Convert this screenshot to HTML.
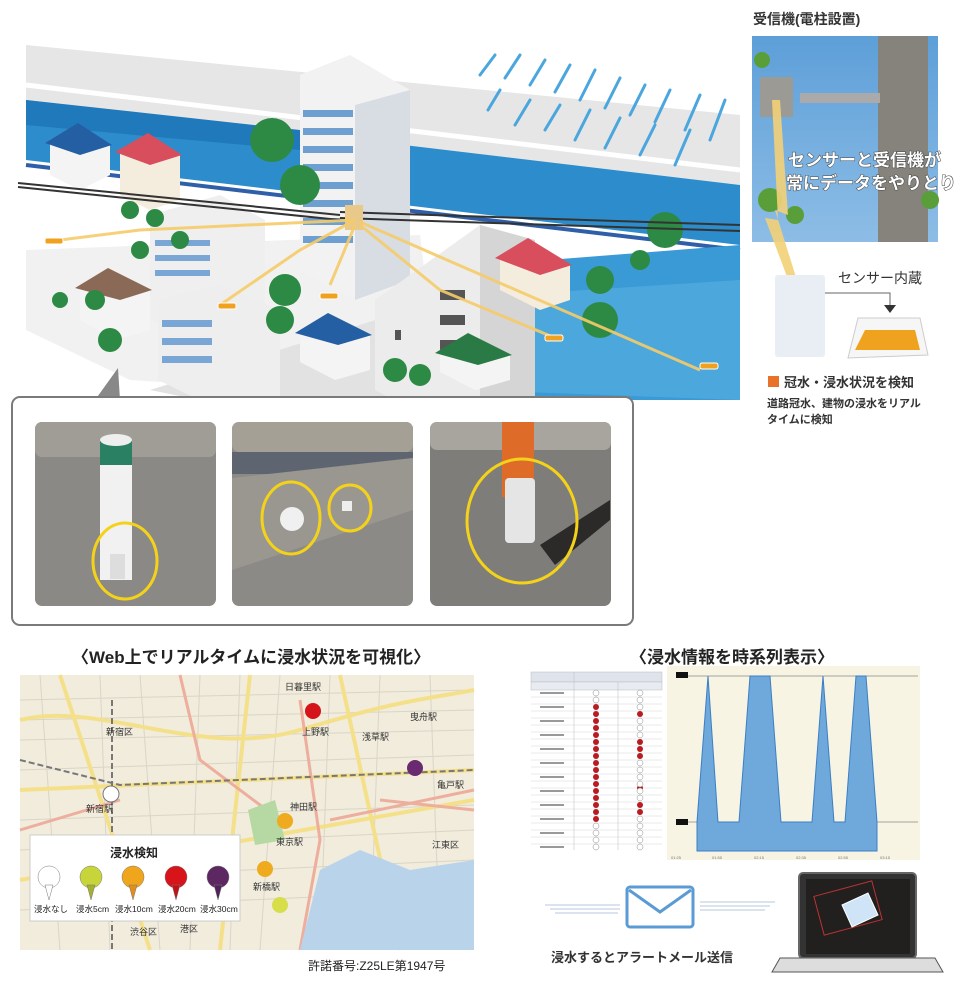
<!DOCTYPE html>
<html><head><meta charset="utf-8"><style>
html,body{margin:0;padding:0;background:#fff;}
body{width:980px;height:985px;overflow:hidden;position:relative;font-family:"Liberation Sans","Noto Sans CJK JP",sans-serif;}
svg text{font-family:"Liberation Sans","Noto Sans CJK JP",sans-serif;}
</style></head><body>
<svg width="980" height="985" viewBox="0 0 980 985" xmlns="http://www.w3.org/2000/svg">
<defs>
<linearGradient id="sky" x1="0" y1="0" x2="0" y2="1"><stop offset="0" stop-color="#5d9fd8"/><stop offset="1" stop-color="#8dbde6"/></linearGradient>
</defs>
<!-- ===== top illustration ===== -->
<polygon points="26,45 740,115 740,185 26,100" fill="#e6e6e6"/>
<polygon points="26,100 740,185 740,245 26,160" fill="#2c8ccc"/>
<polygon points="26,100 300,130 300,150 26,125" fill="#1f79bb"/>
<polyline points="26,85 740,170" stroke="#fff" stroke-width="5" fill="none"/>
<polyline points="26,165 740,250" stroke="#2e5fa8" stroke-width="4" fill="none"/>
<polyline points="26,172 740,258" stroke="#fff" stroke-width="3" fill="none"/>
<polygon points="420,270 740,245 740,400 440,400 420,330" fill="#3a9ad6"/>
<polygon points="430,300 740,280 740,400 470,390" fill="#58b0e0" opacity=".6"/>
<g stroke="#4aa6dd" stroke-width="3" stroke-linecap="round">
<line x1="495" y1="55" x2="480" y2="75"/><line x1="520" y1="55" x2="505" y2="78"/><line x1="545" y1="60" x2="530" y2="85"/><line x1="570" y1="65" x2="555" y2="92"/><line x1="595" y1="70" x2="580" y2="100"/><line x1="620" y1="78" x2="605" y2="108"/><line x1="645" y1="85" x2="630" y2="115"/><line x1="670" y1="90" x2="655" y2="122"/><line x1="700" y1="95" x2="685" y2="130"/><line x1="725" y1="100" x2="710" y2="140"/>
<line x1="500" y1="90" x2="488" y2="110"/><line x1="530" y1="100" x2="515" y2="125"/><line x1="560" y1="105" x2="545" y2="130"/><line x1="590" y1="110" x2="575" y2="140"/><line x1="620" y1="118" x2="605" y2="148"/><line x1="655" y1="125" x2="640" y2="155"/><line x1="690" y1="130" x2="675" y2="165"/>
</g>
<polygon points="26,250 420,235 440,400 130,380 26,330" fill="#f1f1f1"/>
<polygon points="150,390 440,300 460,400 200,400" fill="#e2e2e2"/>
<polygon points="300,75 350,55 410,90 410,280 355,300 300,270" fill="#f2f2f2"/>
<polygon points="355,105 410,90 410,280 355,300" fill="#d8dde3"/>
<g fill="#6d9fd0">
<rect x="303" y="110" width="50" height="7"/><rect x="303" y="128" width="50" height="7"/><rect x="303" y="146" width="50" height="7"/><rect x="303" y="164" width="50" height="7"/><rect x="303" y="182" width="50" height="7"/><rect x="303" y="200" width="50" height="7"/><rect x="303" y="218" width="50" height="7"/><rect x="303" y="236" width="50" height="7"/>
</g>
<polygon points="375,300 480,225 535,240 535,420 430,420 375,390" fill="#ececec"/>
<polygon points="480,225 535,240 535,400 480,410" fill="#d5d5d5"/>
<g fill="#555"><rect x="395" y="330" width="6" height="10"/><rect x="395" y="360" width="6" height="10"/><rect x="440" y="290" width="25" height="10"/><rect x="440" y="315" width="25" height="10"/><rect x="440" y="340" width="25" height="10"/></g>
<polygon points="150,215 220,195 265,220 265,330 215,350 150,320" fill="#efefef"/>
<g fill="#7aa6d6"><rect x="155" y="240" width="55" height="6"/><rect x="155" y="255" width="55" height="6"/><rect x="155" y="270" width="55" height="6"/></g>
<polygon points="158,300 220,285 280,310 280,400 220,410 158,380" fill="#eeeeee"/>
<g fill="#7aa6d6"><rect x="162" y="320" width="50" height="7"/><rect x="162" y="338" width="50" height="7"/><rect x="162" y="356" width="50" height="7"/></g>
<g>
<polygon points="50,140 80,125 110,145 110,175 80,190 50,175" fill="#f4f4f4"/><polygon points="45,143 78,123 112,145 80,155" fill="#255fa3"/>
<polygon points="120,150 150,135 180,155 180,200 150,210 120,195" fill="#f4ecdc"/><polygon points="115,152 148,133 182,155 150,165" fill="#d94e5c"/>
<polygon points="80,285 110,270 150,290 150,330 115,340 80,320" fill="#f4f4f4"/><polygon points="75,288 108,268 152,290 120,300" fill="#8a6a56"/>
<polygon points="300,330 330,315 370,335 370,370 335,380 300,362" fill="#f4f4f4"/><polygon points="295,333 328,313 372,335 338,345" fill="#255fa3"/>
<polygon points="500,255 530,240 570,265 570,300 540,310 500,290" fill="#f4ecdc"/><polygon points="495,258 528,238 572,265 540,275" fill="#d94e5c"/>
<polygon points="440,350 470,335 510,355 510,380 475,390 440,372" fill="#f4f4f4"/><polygon points="435,353 468,333 512,355 478,365" fill="#2a7a45"/>
</g>
<g fill="#2d8a45">
<circle cx="272" cy="140" r="22"/><circle cx="300" cy="185" r="20"/><circle cx="110" cy="340" r="12"/><circle cx="95" cy="300" r="10"/>
<circle cx="130" cy="210" r="9"/><circle cx="155" cy="218" r="9"/><circle cx="140" cy="250" r="9"/><circle cx="180" cy="240" r="9"/><circle cx="285" cy="290" r="16"/><circle cx="280" cy="320" r="14"/>
<circle cx="600" cy="320" r="18"/><circle cx="600" cy="280" r="14"/><circle cx="665" cy="230" r="18"/><circle cx="640" cy="260" r="10"/>
<circle cx="395" cy="370" r="12"/><circle cx="420" cy="375" r="11"/><circle cx="60" cy="300" r="8"/>
</g>
<g stroke="#333" stroke-width="2" fill="none">
<line x1="18" y1="183" x2="340" y2="215"/><line x1="18" y1="187" x2="340" y2="220"/><line x1="340" y1="212" x2="740" y2="225"/><line x1="340" y1="218" x2="740" y2="231"/>
</g>
<rect x="345" y="205" width="18" height="25" fill="#e8c98a"/>
<g stroke="#f5cc6a" stroke-width="3" fill="none" opacity=".9">
<polyline points="355,220 140,230 60,240"/><polyline points="355,220 300,250 220,305"/><polyline points="355,225 330,285"/><polyline points="360,225 440,290 560,340"/><polyline points="360,222 470,270 700,370"/>
</g>
<g fill="#f0a21e" stroke="#fff" stroke-width="1">
<rect x="45" y="238" width="18" height="6" rx="2"/><rect x="218" y="303" width="18" height="6" rx="2"/><rect x="320" y="293" width="18" height="6" rx="2"/><rect x="545" y="335" width="18" height="6" rx="2"/><rect x="700" y="363" width="18" height="6" rx="2"/>
</g>
<polygon points="95,400 118,368 120,400" fill="#888"/>
<!-- photos box -->
<rect x="12" y="397" width="621" height="228" rx="8" fill="#fff" stroke="#7a7a7a" stroke-width="2"/>
<rect x="35" y="422" width="181" height="184" rx="7" fill="#8b8985"/>
<rect x="35" y="422" width="181" height="35" rx="7" fill="#a09d97"/>
<rect x="100" y="440" width="32" height="25" fill="#2a8062"/><ellipse cx="116" cy="440" rx="16" ry="6" fill="#eee"/>
<rect x="100" y="465" width="32" height="115" fill="#f1f1f1"/>
<rect x="110" y="554" width="15" height="25" fill="#ddd"/>
<ellipse cx="125" cy="561" rx="32" ry="38" fill="none" stroke="#f4d21a" stroke-width="3"/>
<rect x="232" y="422" width="181" height="184" rx="7" fill="#8c8a86"/>
<rect x="232" y="422" width="181" height="30" rx="7" fill="#a4a095"/>
<rect x="232" y="452" width="181" height="22" fill="#5f6570"/>
<polygon points="232,478 413,458 413,510 232,570" fill="#9a9790"/>
<circle cx="292" cy="519" r="12" fill="#f0f0f0"/><rect x="342" y="501" width="10" height="10" fill="#eee"/>
<ellipse cx="291" cy="518" rx="29" ry="36" fill="none" stroke="#f4d21a" stroke-width="3"/>
<ellipse cx="350" cy="508" rx="21" ry="23" fill="none" stroke="#f4d21a" stroke-width="3"/>
<rect x="430" y="422" width="181" height="184" rx="7" fill="#7f7d79"/>
<rect x="430" y="422" width="181" height="28" rx="7" fill="#a8a59f"/>
<rect x="502" y="422" width="32" height="75" fill="#df6b28"/>
<rect x="505" y="478" width="30" height="65" rx="4" fill="#e5e5e5"/>
<polygon points="540,545 610,500 610,520 555,565" fill="#2b2a28"/>
<ellipse cx="522" cy="521" rx="55" ry="62" fill="none" stroke="#f4d21a" stroke-width="3"/>
<!-- right top photo -->
<text x="753" y="24" font-size="14" font-weight="bold" fill="#333">受信機(電柱設置)</text>
<rect x="752" y="36" width="186" height="206" fill="url(#sky)"/>
<rect x="878" y="36" width="50" height="206" fill="#85837c"/>
<rect x="800" y="93" width="80" height="10" fill="#aaa"/>
<rect x="760" y="77" width="33" height="40" fill="#9b9a95"/>
<g fill="#5a9e3a"><circle cx="762" cy="60" r="8"/><circle cx="770" cy="200" r="12"/><circle cx="795" cy="215" r="9"/><circle cx="930" cy="200" r="9"/></g>
<polygon points="772,100 780,100 788,215 775,210 800,290 792,290 765,218 778,220" fill="#f3d077" opacity=".9"/>
<text x="788" y="166" font-size="17" font-weight="bold" fill="#fff" stroke="#444" stroke-width="1" paint-order="stroke">センサーと受信機が</text>
<text x="786" y="189" font-size="17" font-weight="bold" fill="#fff" stroke="#444" stroke-width="1" paint-order="stroke">常にデータをやりとり</text>
<rect x="775" y="275" width="50" height="82" rx="3" fill="#e8eef3"/>
<text x="838" y="283" font-size="14" fill="#333">センサー内蔵</text>
<polyline points="825,293 890,293 890,305" fill="none" stroke="#666"/>
<polygon points="884,305 896,305 890,313" fill="#333"/>
<polygon points="858,318 920,318 928,355 848,358" fill="#f6f6f6" stroke="#ccc"/>
<polygon points="865,330 915,330 920,350 855,350" fill="#eea21e"/>
<rect x="768" y="376" width="11" height="11" fill="#e8722a"/>
<text x="784" y="387" font-size="13" font-weight="bold" fill="#333">冠水・浸水状況を検知</text>
<text x="767" y="407" font-size="11" font-weight="bold" fill="#333">道路冠水、建物の浸水をリアル</text>
<text x="767" y="423" font-size="11" font-weight="bold" fill="#333">タイムに検知</text>
<!-- map -->
<text x="72" y="663" font-size="17" font-weight="bold" fill="#222">〈Web上でリアルタイムに浸水状況を可視化〉</text>
<rect x="20" y="675" width="454" height="275" fill="#f1ecdc"/>
<g stroke="#d9d5c8" stroke-width="1" fill="none">
<path d="M20,700 L474,690"/><path d="M20,740 L474,730"/><path d="M20,770 L474,755"/><path d="M20,850 L474,830"/><path d="M20,910 L474,890"/><path d="M40,675 L60,950"/><path d="M140,675 L160,950"/><path d="M200,675 L190,950"/><path d="M280,675 L260,950"/><path d="M380,675 L370,950"/><path d="M430,675 L440,950"/>
<path d="M20,720 L474,710"/><path d="M20,820 L474,805"/><path d="M20,880 L474,860"/><path d="M100,675 L110,950"/><path d="M240,675 L230,950"/><path d="M330,675 L320,950"/>
</g>
<g stroke="#f5e08a" stroke-width="4" fill="none">
<path d="M20,720 C100,700 200,760 300,730 S420,700 474,690"/><path d="M60,675 L150,950"/><path d="M250,675 L220,950"/><path d="M20,880 L474,800"/><path d="M340,675 L400,950"/><path d="M20,790 L474,770"/>
</g>
<g stroke="#eeae9e" stroke-width="3" fill="none">
<path d="M180,675 L200,760 L280,820"/><path d="M300,700 L320,840 L300,950"/><path d="M330,820 L474,790"/><path d="M20,830 L120,800"/><path d="M380,800 L474,810"/>
</g>
<g stroke="#777" stroke-width="2" stroke-dasharray="6 3" fill="none"><path d="M20,760 L120,785 L474,770"/><path d="M112,700 L112,950"/></g>
<path d="M320,870 L360,850 L410,870 L474,860 L474,950 L300,950 Z" fill="#b9d3ea"/>
<path d="M248,810 L275,800 L285,840 L255,845 Z" fill="#b6d8a3"/>
<g font-size="9" fill="#333"><text x="285" y="690">日暮里駅</text><text x="302" y="735">上野駅</text><text x="362" y="740">浅草駅</text><text x="410" y="720">曳舟駅</text><text x="437" y="788">亀戸駅</text><text x="86" y="812">新宿駅</text><text x="290" y="810">神田駅</text><text x="276" y="845">東京駅</text><text x="253" y="890">新橋駅</text><text x="432" y="848">江東区</text><text x="130" y="935">渋谷区</text><text x="180" y="932">港区</text><text x="106" y="735">新宿区</text></g>
<g>
<circle cx="313" cy="711" r="8" fill="#d4141a"/><circle cx="415" cy="768" r="8" fill="#6a2a70"/><circle cx="111" cy="794" r="8" fill="#fff" stroke="#777"/><circle cx="285" cy="821" r="8" fill="#efaa1d"/><circle cx="265" cy="869" r="8" fill="#efaa1d"/><circle cx="280" cy="905" r="8" fill="#d7de4a"/>
</g>
<rect x="30" y="835" width="210" height="86" fill="#fff" stroke="#ccc"/>
<text x="110" y="857" font-size="12" font-weight="bold" fill="#222">浸水検知</text>
<g stroke="#777" stroke-width=".5">
<circle cx="49" cy="877" r="11" fill="#fff"/><polygon points="45,885 53,885 49,900" fill="#fff"/>
<circle cx="91" cy="877" r="11" fill="#c7d43a"/><polygon points="87,885 95,885 91,900" fill="#a5b030"/>
<circle cx="133" cy="877" r="11" fill="#efa51c"/><polygon points="129,885 137,885 133,900" fill="#e0901a"/>
<circle cx="176" cy="877" r="11" fill="#d6141a"/><polygon points="172,885 180,885 176,900" fill="#c21218"/>
<circle cx="218" cy="877" r="11" fill="#5d2862"/><polygon points="214,885 222,885 218,900" fill="#50225a"/>
</g>
<g font-size="8.5" fill="#222"><text x="34" y="912">浸水なし</text><text x="76" y="912">浸水5cm</text><text x="115" y="912">浸水10cm</text><text x="158" y="912">浸水20cm</text><text x="200" y="912">浸水30cm</text></g>
<text x="308" y="970" font-size="12" fill="#222">許諾番号:Z25LE第1947号</text>
<!-- time series -->
<text x="630" y="663" font-size="17" font-weight="bold" fill="#222">〈浸水情報を時系列表示〉</text>
<rect x="531" y="672" width="131" height="10" fill="#dfe4ec" stroke="#bbb" stroke-width=".5"/>
<rect x="531" y="682" width="131" height="8" fill="#e8ecf2" stroke="#bbb" stroke-width=".5"/>
<line x1="574" y1="672" x2="574" y2="850" stroke="#bbb" stroke-width=".5"/>
<line x1="618" y1="682" x2="618" y2="850" stroke="#bbb" stroke-width=".5"/>
<g stroke="#ccc" stroke-width=".4">
<line x1="531" y1="697" x2="662" y2="697"/><line x1="531" y1="704" x2="662" y2="704"/><line x1="531" y1="711" x2="662" y2="711"/><line x1="531" y1="718" x2="662" y2="718"/><line x1="531" y1="725" x2="662" y2="725"/><line x1="531" y1="732" x2="662" y2="732"/><line x1="531" y1="739" x2="662" y2="739"/><line x1="531" y1="746" x2="662" y2="746"/><line x1="531" y1="753" x2="662" y2="753"/><line x1="531" y1="760" x2="662" y2="760"/><line x1="531" y1="767" x2="662" y2="767"/><line x1="531" y1="774" x2="662" y2="774"/><line x1="531" y1="781" x2="662" y2="781"/><line x1="531" y1="788" x2="662" y2="788"/><line x1="531" y1="795" x2="662" y2="795"/><line x1="531" y1="802" x2="662" y2="802"/><line x1="531" y1="809" x2="662" y2="809"/><line x1="531" y1="816" x2="662" y2="816"/><line x1="531" y1="823" x2="662" y2="823"/><line x1="531" y1="830" x2="662" y2="830"/><line x1="531" y1="837" x2="662" y2="837"/><line x1="531" y1="844" x2="662" y2="844"/>
</g>
<g fill="#b81c22">
<circle cx="596" cy="707" r="3"/><circle cx="596" cy="714" r="3"/><circle cx="596" cy="721" r="3"/><circle cx="596" cy="728" r="3"/><circle cx="596" cy="735" r="3"/><circle cx="596" cy="742" r="3"/><circle cx="596" cy="749" r="3"/><circle cx="596" cy="756" r="3"/><circle cx="596" cy="763" r="3"/><circle cx="596" cy="770" r="3"/><circle cx="596" cy="777" r="3"/><circle cx="596" cy="784" r="3"/><circle cx="596" cy="791" r="3"/><circle cx="596" cy="798" r="3"/><circle cx="596" cy="805" r="3"/><circle cx="596" cy="812" r="3"/><circle cx="596" cy="819" r="3"/>
<circle cx="640" cy="714" r="3"/><circle cx="640" cy="742" r="3"/><circle cx="640" cy="749" r="3"/><circle cx="640" cy="756" r="3"/><circle cx="640" cy="788" r="3"/><circle cx="640" cy="805" r="3"/><circle cx="640" cy="812" r="3"/>
</g>
<g fill="#fff" stroke="#888" stroke-width=".5">
<circle cx="596" cy="693" r="3"/><circle cx="596" cy="700" r="3"/><circle cx="596" cy="826" r="3"/><circle cx="596" cy="833" r="3"/><circle cx="596" cy="840" r="3"/><circle cx="596" cy="847" r="3"/>
<circle cx="640" cy="693" r="3"/><circle cx="640" cy="700" r="3"/><circle cx="640" cy="707" r="3"/><circle cx="640" cy="721" r="3"/><circle cx="640" cy="728" r="3"/><circle cx="640" cy="735" r="3"/><circle cx="640" cy="763" r="3"/><circle cx="640" cy="770" r="3"/><circle cx="640" cy="777" r="3"/><circle cx="640" cy="784" r="3"/><circle cx="640" cy="791" r="3"/><circle cx="640" cy="798" r="3"/><circle cx="640" cy="819" r="3"/><circle cx="640" cy="826" r="3"/><circle cx="640" cy="833" r="3"/><circle cx="640" cy="840" r="3"/><circle cx="640" cy="847" r="3"/>
</g>
<g fill="#999"><rect x="540" y="692" width="24" height="2"/><rect x="540" y="706" width="24" height="2"/><rect x="540" y="720" width="24" height="2"/><rect x="540" y="734" width="24" height="2"/><rect x="540" y="748" width="24" height="2"/><rect x="540" y="762" width="24" height="2"/><rect x="540" y="776" width="24" height="2"/><rect x="540" y="790" width="24" height="2"/><rect x="540" y="804" width="24" height="2"/><rect x="540" y="818" width="24" height="2"/><rect x="540" y="832" width="24" height="2"/><rect x="540" y="846" width="24" height="2"/></g>
<rect x="667" y="666" width="253" height="194" fill="#f8f4e3"/>
<line x1="676" y1="676" x2="918" y2="676" stroke="#888" stroke-width=".7"/>
<line x1="676" y1="822" x2="918" y2="822" stroke="#888" stroke-width=".7"/>
<polygon points="697,851 697,822 708,676 718,822 739,822 750,676 770,676 781,822 812,822 823,676 834,822 845,822 856,676 866,676 877,822 877,851" fill="#6fa8db" stroke="#3b7fc4" stroke-width="1"/>
<rect x="676" y="672" width="12" height="6" fill="#111"/><rect x="676" y="819" width="12" height="6" fill="#111"/>
<g font-size="4" fill="#777"><text x="671" y="859">01:25</text><text x="712" y="859">01:55</text><text x="754" y="859">02:15</text><text x="796" y="859">02:35</text><text x="838" y="859">02:55</text><text x="880" y="859">03:15</text></g>
<!-- mail -->
<g stroke="#c5d3e3" stroke-width="1.2"><line x1="545" y1="905" x2="620" y2="905"/><line x1="550" y1="909" x2="620" y2="909"/><line x1="555" y1="913" x2="618" y2="913"/><line x1="700" y1="902" x2="775" y2="902"/><line x1="700" y1="906" x2="770" y2="906"/><line x1="700" y1="910" x2="765" y2="910"/></g>
<rect x="627" y="887" width="66" height="40" rx="3" fill="#fff" stroke="#5b9bd5" stroke-width="3"/>
<polyline points="629,890 660,912 691,890" fill="none" stroke="#5b9bd5" stroke-width="3"/>
<text x="551" y="962" font-size="13" font-weight="bold" fill="#333">浸水するとアラートメール送信</text>
<rect x="799" y="873" width="117" height="85" rx="4" fill="#333" stroke="#666" stroke-width="2"/>
<rect x="806" y="879" width="104" height="75" fill="#221f1f"/>
<rect x="818" y="888" width="60" height="40" fill="none" stroke="#b33" stroke-width="1" transform="rotate(-15 848 908)"/>
<polygon points="842,905 868,893 878,915 852,927" fill="#cfe4f7" stroke="#fff"/>
<polygon points="780,958 935,958 943,972 772,972" fill="#ddd" stroke="#555"/>
</svg>
</body></html>
